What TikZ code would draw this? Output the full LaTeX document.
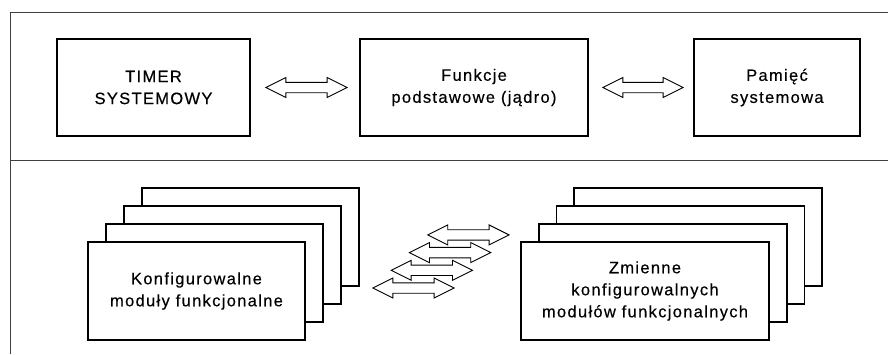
\documentclass[tikz,border=0pt]{standalone}
\usepackage{fontspec}
\setmainfont{Liberation Sans}
\newfontfamily\lblfont[LetterSpace=8,FakeBold=0.35]{Liberation Sans}
\usetikzlibrary{calc}

% double-headed hollow arrow between two points on the same level
\newcommand\fatarrow[2]{%
  \draw[fat] (#1) -- ++(20,-10) -- ++(0,4.8) -- ($(#2)+(-20,-5.2)$)
    -- ++(0,-4.8) -- (#2) -- ++(-20,10) -- ++(0,-4.8)
    -- ($(#1)+(20,5.2)$) -- ++(0,4.8) -- cycle;}

\tikzset{
  frameline/.style={line width=0.9pt, draw=black!75},
  block/.style={draw, line width=1.7pt, fill=white, align=center,
    inner sep=0pt, font=\lblfont\fontsize{16.5}{22}\selectfont},
  fat/.style={draw, line width=0.9pt, fill=white, line join=miter},
}

\begin{document}
\begin{tikzpicture}[x=1pt,y=-1pt]
\useasboundingbox (0,0) rectangle (888,354);

% panel frame
\draw[frameline] (10,354) -- (10,12) -- (888,12);
\draw[frameline] (10,160.5) -- (888,160.5);

% core row
\node[block, minimum width=193, minimum height=97] (timer) at (153.5,87.5) {TIMER\\SYSTEMOWY};
\node[block, minimum width=228, minimum height=97] (core) at (474,87.5) {Funkcje\\podstawowe (jądro)};
\node[block, minimum width=166, minimum height=97] (mem) at (777,87.5) {Pamięć\\systemowa};

\coordinate (a1) at ($(timer.east)+(15,0)$);
\coordinate (a2) at ($(core.west)+(-12,0)$);
\coordinate (b1) at ($(core.east)+(14,0)$);
\coordinate (b2) at ($(mem.west)+(-10,0)$);
\fatarrow{a1}{a2}
\fatarrow{b1}{b2}

% stacked module boxes (back to front)
\foreach \k in {3,2,1}{
  \node[block, minimum width=217, minimum height=98] (mod\k) at ($(196.5,291)+\k*(18,-18)$) {};
  \node[block, minimum width=248, minimum height=98] (var\k) at ($(645,291)+\k*(17.7,-18)$) {};
}
\node[block, minimum width=217, minimum height=98] (mod) at (196.5,291) {Konfigurowalne\\moduły funkcjonalne};
\node[block, minimum width=248, minimum height=98] (var) at (645,291) {Zmienne\\konfigurowalnych\\modułów funkcjonalnych};

% stacked links between the two groups (back to front)
\coordinate (l0) at ($(mod.east)+(67,-3)$);
\coordinate (r0) at ($(var.west)+(-66,-3)$);
\foreach \k in {3,2,1,0}{
  \coordinate (lk) at ($(l0)+\k*(18.3,-17.7)$);
  \coordinate (rk) at ($(r0)+\k*(18.3,-17.7)$);
  \fatarrow{lk}{rk}
}
\end{tikzpicture}
\end{document}
